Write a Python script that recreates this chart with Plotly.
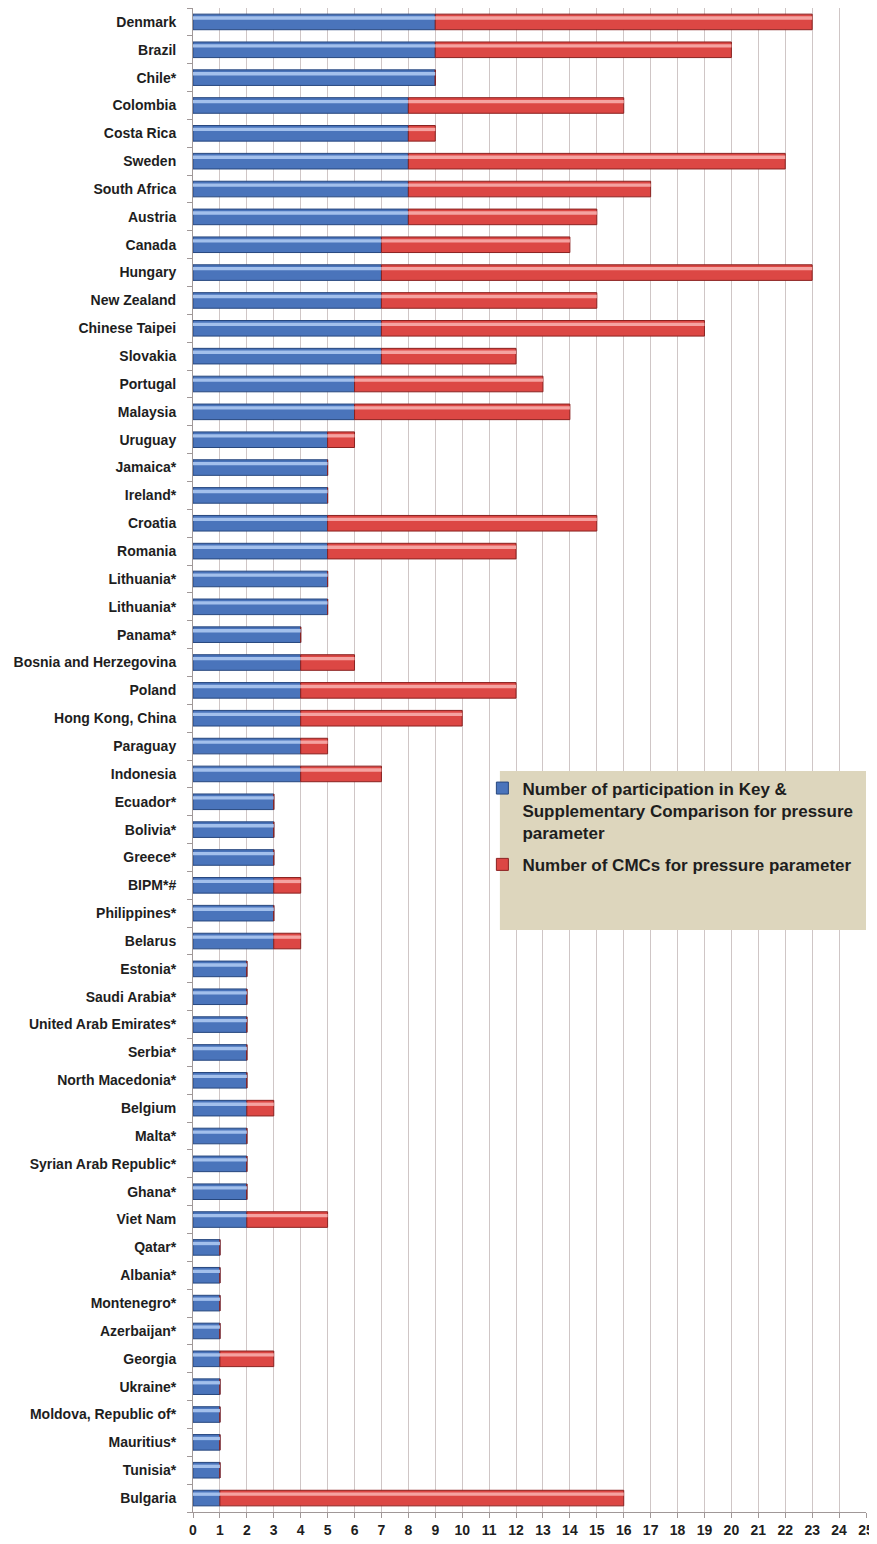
import plotly.graph_objects as go

countries = ["Denmark", "Brazil", "Chile*", "Colombia", "Costa Rica", "Sweden", "South Africa",
             "Austria", "Canada", "Hungary", "New Zealand", "Chinese Taipei", "Slovakia", "Portugal",
             "Malaysia", "Uruguay", "Jamaica*", "Ireland*", "Croatia", "Romania", "Lithuania*",
             "Lithuania*", "Panama*", "Bosnia and Herzegovina", "Poland", "Hong Kong, China",
             "Paraguay", "Indonesia", "Ecuador*", "Bolivia*", "Greece*", "BIPM*#", "Philippines*",
             "Belarus", "Estonia*", "Saudi Arabia*", "United Arab Emirates*", "Serbia*",
             "North Macedonia*", "Belgium", "Malta*", "Syrian Arab Republic*", "Ghana*", "Viet Nam",
             "Qatar*", "Albania*", "Montenegro*", "Azerbaijan*", "Georgia", "Ukraine*",
             "Moldova, Republic of*", "Mauritius*", "Tunisia*", "Bulgaria"]
participation = [9, 9, 9, 8, 8, 8, 8, 8, 7, 7, 7, 7, 7, 6, 6, 5, 5, 5, 5, 5, 5, 5, 4, 4, 4, 4, 4, 4,
                 3, 3, 3, 3, 3, 3, 2, 2, 2, 2, 2, 2, 2, 2, 2, 2, 1, 1, 1, 1, 1, 1, 1, 1, 1, 1]
cmcs = [14, 11, 0, 8, 1, 14, 9, 7, 7, 16, 8, 12, 5, 7, 8, 1, 0, 0, 10, 7, 0, 0, 0, 2, 8, 6, 1, 3,
        0, 0, 0, 1, 0, 1, 0, 0, 0, 0, 0, 1, 0, 0, 0, 3, 0, 0, 0, 0, 2, 0, 0, 0, 0, 15]
x_ticks = list(range(0, 26))

name_blue = "Number of participation in Key &<br>Supplementary Comparison for pressure<br>parameter"
name_red = "Number of CMCs for pressure parameter"

pos = list(range(len(countries)))
W = 0.56

fig = go.Figure()
fig.add_trace(go.Bar(y=pos, x=participation, base=[0] * len(pos), orientation="h", width=W,
                     name=name_blue, legendgroup="a",
                     marker=dict(color="#4a74bb", line=dict(color="#27477e", width=1))))
fig.add_trace(go.Bar(y=pos, x=cmcs, base=participation, orientation="h", width=W,
                     name=name_red, legendgroup="b",
                     marker=dict(color="#dc4744", line=dict(color="#8a2220", width=1))))
# highlight stripes (3D look)
fig.add_trace(go.Bar(y=pos, x=participation, base=[0] * len(pos), orientation="h", width=0.12,
                     offset=-0.2, showlegend=False, hoverinfo="skip", legendgroup="a",
                     marker=dict(color="#a3c0ec", line=dict(width=0))))
fig.add_trace(go.Bar(y=pos, x=cmcs, base=participation, orientation="h", width=0.12,
                     offset=-0.2, showlegend=False, hoverinfo="skip", legendgroup="b",
                     marker=dict(color="#f5a3a1", line=dict(width=0))))

fig.add_shape(type="rect", xref="paper", yref="paper", x0=0.456, x1=1.0, y0=0.387, y1=0.4927,
              fillcolor="#ddd6bd", line=dict(width=0), layer="above")

fig.update_layout(
    width=869, height=1536,
    margin=dict(l=185, r=11, t=0, b=32, autoexpand=False),
    paper_bgcolor="white", plot_bgcolor="white",
    barmode="overlay",
    showlegend=True,
    legend=dict(x=0.43, y=0.493, xanchor="left", yanchor="top", bgcolor="rgba(0,0,0,0)",
                font=dict(family="Liberation Sans", size=17, color="#1e1e1e", weight="bold"),
                traceorder="grouped", itemwidth=30, tracegroupgap=7, valign="top"),
    font=dict(family="Liberation Sans", color="#1e1e1e"),
)
fig.update_xaxes(range=[0, 25], tickvals=x_ticks, ticktext=[str(v) for v in x_ticks],
                 automargin=False,
                 showgrid=True, gridcolor="#cfc6c6", gridwidth=1, zeroline=False,
                 showline=True, linecolor="#a09898", ticks="outside", ticklen=5, tickcolor="#a09898",
                 tickfont=dict(size=14, weight="bold", color="#1e1e1e"))
fig.update_yaxes(range=[len(countries) - 0.5, -0.5], tickvals=pos, ticktext=countries,
                 automargin=False,
                 showgrid=False, zeroline=False, showline=True, linecolor="#a09898", ticks="",
                 ticklabelstandoff=13,
                 minor=dict(tick0=0.5, dtick=1, ticks="outside", ticklen=5, tickcolor="#a09898",
                            showgrid=False),
                 tickfont=dict(size=14, weight="bold", color="#1e1e1e"))

fig.write_html("out.html")
